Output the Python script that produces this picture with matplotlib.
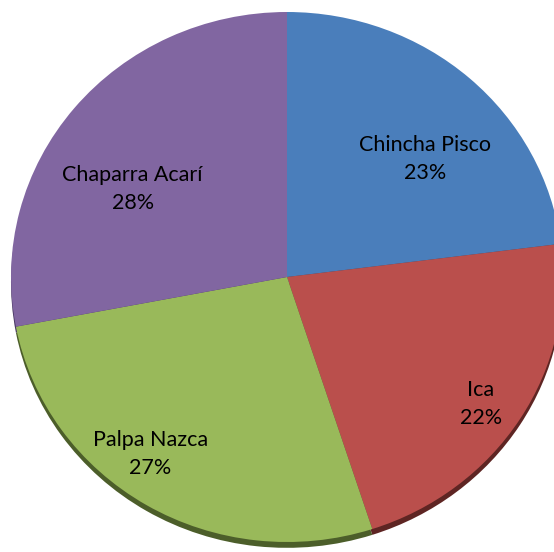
import numpy as np
import matplotlib
matplotlib.use('Agg')
import matplotlib.pyplot as plt

# === data ===
regions = ['Chincha Pisco', 'Ica', 'Palpa Nazca', 'Chaparra Acarí']
shares = [23, 22, 27, 28]

colors = ['#4A7EBB', '#BA4F4C', '#99B95A', '#8166A1']
side_colors = ['#2c4c73', '#5e2523', '#4c5e2a', '#463660']

# label placement (radius, angle shift in deg) per slice
label_r = [0.67, 0.85, 0.83, 0.65]
label_shift = [-7, -2, -6, 9]

fig = plt.figure(figsize=(5.54, 5.52), dpi=100)
ax = fig.add_axes([0, 0, 1, 1])

# darker copy offset downward -> thin 3d edge
ax.pie(shares, colors=side_colors, startangle=90, counterclock=False,
       center=(0, -0.022), wedgeprops=dict(linewidth=0))
wedges, _ = ax.pie(shares, colors=colors, startangle=90, counterclock=False,
                   wedgeprops=dict(linewidth=0))

for w, name, val, r, sh in zip(wedges, regions, shares, label_r, label_shift):
    mid = np.deg2rad((w.theta1 + w.theta2) / 2 + sh)
    pct = 100 * val / sum(shares)
    ax.text(r * np.cos(mid), r * np.sin(mid), f'{name}\n{pct:.0f}%',
            ha='center', va='center', fontsize=15.5, family='Lato',
            fontweight='normal', linespacing=1.5, color='black')

# pie is drawn slightly elliptical and clipped on the right like the original
ax.set_aspect('auto')
ax.set_xlim(-287 / 276, (554 - 287) / 276)
ax.set_ylim(-275 / 265, (552 - 275) / 265)
ax.axis('off')

fig.savefig('out.png', dpi=100, facecolor='white')
